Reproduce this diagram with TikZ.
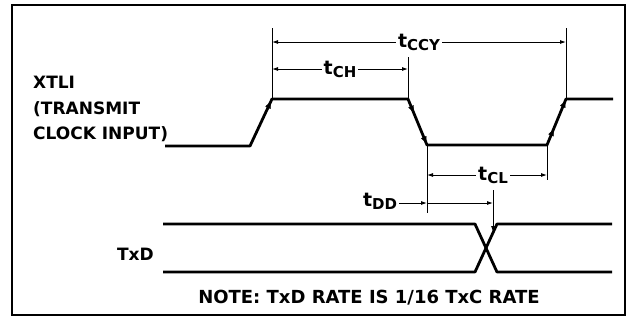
\documentclass[tikz,border=0pt]{standalone}
\usepackage{fontspec}
\setmainfont{DejaVu Sans}
\usetikzlibrary{arrows.meta,decorations.markings}

\newcommand{\tsub}[1]{{\fontsize{15}{15}\selectfont\raisebox{-3pt}{#1}}}

\tikzset{
  wave/.style={line width=2.8pt,line join=round},
  thin/.style={line width=0.9pt},
  dimarr/.style={thin,{Latex[length=6pt,width=4pt]}-{Latex[length=6pt,width=4pt]}},
  ontip/.style={thin,-{Latex[length=6pt,width=4pt]}},
  edgetip/.style={postaction={decorate,decoration={markings,
      mark=at position #1 with {\arrow{Latex[length=7pt,width=6pt]}}}}},
  txt/.style={font=\bfseries\fontsize{17}{17}\selectfont,inner sep=0pt},
  tlbl/.style={fill=white,inner sep=2pt,font=\bfseries\fontsize{19}{19}\selectfont}
}

\begin{document}
\begin{tikzpicture}[x=1pt,y=-1pt]
    \useasboundingbox (0,0) rectangle (633,327);
    % Frame
    \draw[line width=1.3pt] (12,5) rectangle (625,315);
    % Signal names
    \node[txt,anchor=base west] (xtli) at (33,88) {XTLI};
    \node[txt,anchor=base west] (xmit) at (33,114) {(TRANSMIT};
    \node[txt,anchor=base west] (clk) at (33,139) {CLOCK INPUT)};
    \node[txt,anchor=base east] (txd) at (154,260) {TxD};
    % Clock waveform
    \coordinate (c0) at (165,146);
    \coordinate (c1) at (250,146);
    \coordinate (c2) at (272,99);
    \coordinate (c3) at (408,99);
    \coordinate (c4) at (427,145);
    \coordinate (c5) at (547,145);
    \coordinate (c6) at (566,99);
    \coordinate (c7) at (613,99);
    \draw[wave] (c0) -- (c1) -- (c2) -- (c3) -- (c4) -- (c5) -- (c6) -- (c7);
    % Arrows on the edges
    \path[edgetip=0.95] (c1) -- (c2);
    \path[edgetip=0.3,edgetip=0.97] (c3) -- (c4);
    \path[edgetip=0.35,edgetip=0.97] (c5) -- (c6);
    % Reference lines
    \draw[thin] (c2) -- ++(0,-71);
    \draw[thin] (c3) -- ++(0,-42);
    \draw[thin] (c6) -- ++(0,-71);
    \draw[thin] (c4) -- ++(0,68);
    \draw[thin] (c5) -- ++(0,35);
    % Timing intervals
    \draw[dimarr] (c2 |- 0,42) -- node[tlbl] (tccy) {t\tsub{CCY}} (c6 |- 0,42);
    \draw[dimarr] (c2 |- 0,69) -- node[tlbl] (tch) {t\tsub{CH}} (c3 |- 0,69);
    \draw[dimarr] (c4 |- 0,175) -- node[tlbl,pos=0.55] (tcl) {t\tsub{CL}} (c5 |- 0,175);
    \node[tlbl,fill=none] (tdd) at (380,201) {t\tsub{DD}};
    \coordinate (dd) at (493,190);
    \draw[ontip] (tdd.east |- 0,203) -- (c4 |- 0,203);
    \draw[ontip] (c4 |- 0,203) -- (dd |- 0,203);
    \draw[ontip] (dd) -- (493,232);
    % TxD waveform
    \coordinate (d0) at (163,224);
    \coordinate (d1) at (475,224);
    \coordinate (d2) at (497,272);
    \coordinate (d3) at (612,272);
    \coordinate (e0) at (163,272);
    \coordinate (e1) at (475,272);
    \coordinate (e2) at (497,224);
    \coordinate (e3) at (612,224);
    \draw[wave] (d0) -- (d1) -- (d2) -- (d3);
    \draw[wave] (e0) -- (e1) -- (e2) -- (e3);
    % Note
    \node[txt,font=\bfseries\fontsize{18}{18}\selectfont,anchor=base] (note) at (369,303)
      {NOTE: TxD RATE IS 1/16 TxC RATE};
\end{tikzpicture}
\end{document}
